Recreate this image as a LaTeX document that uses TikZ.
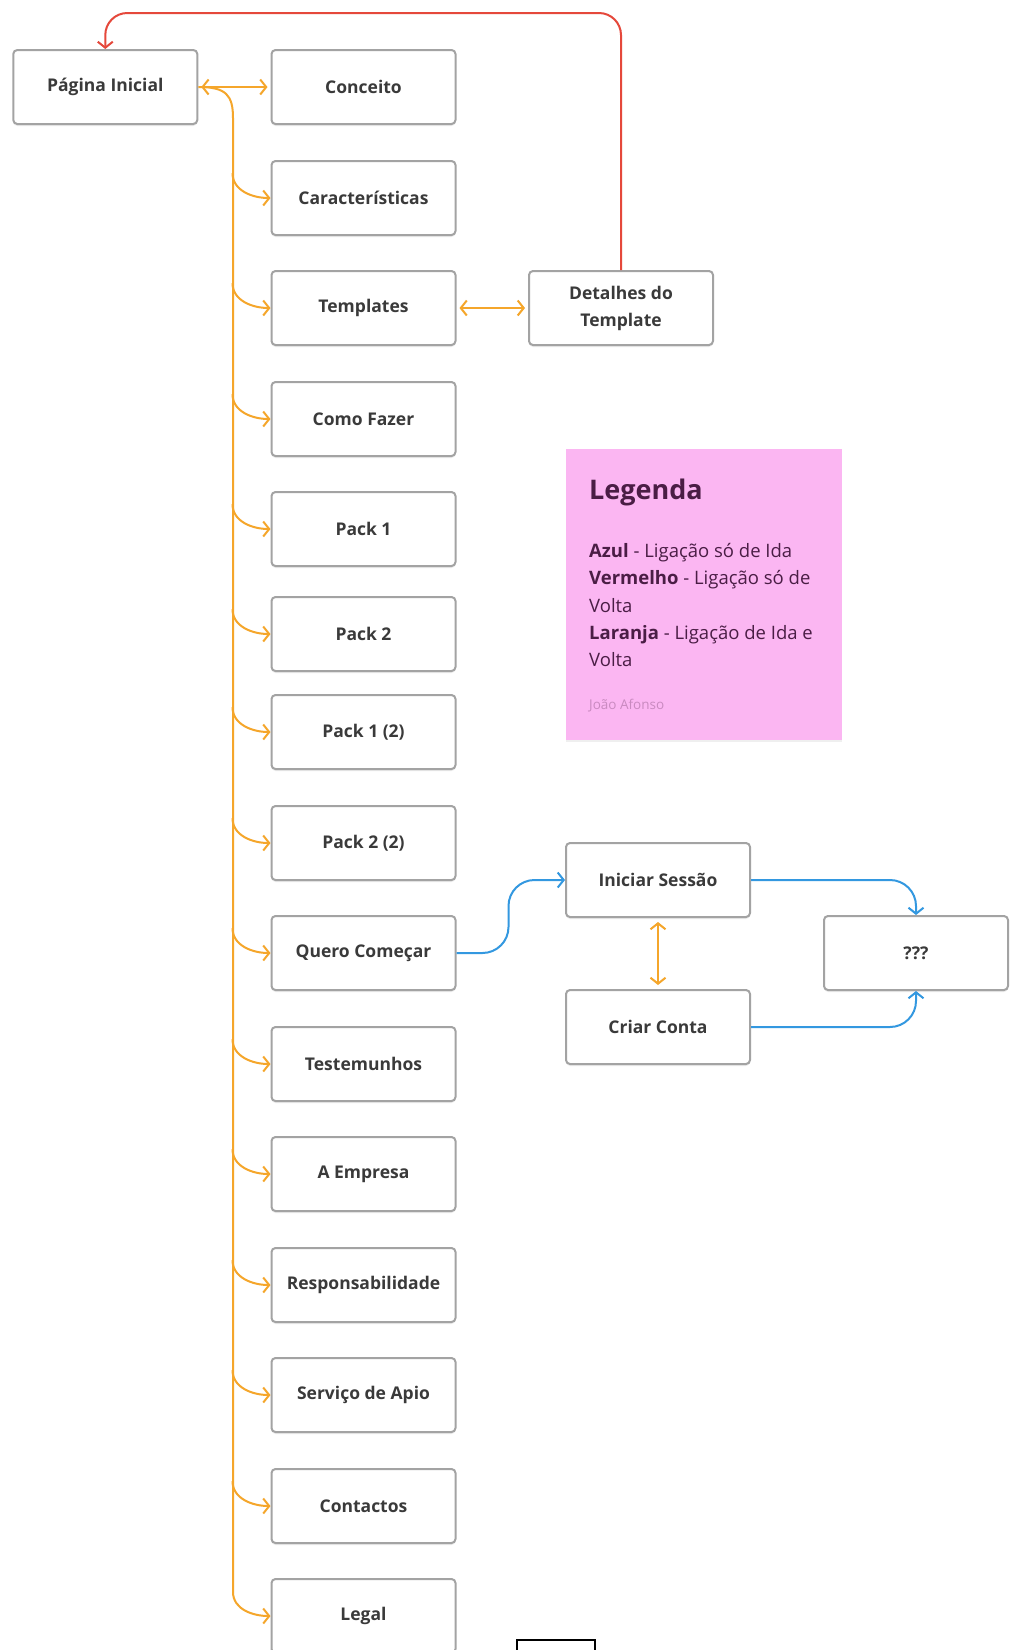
\documentclass[tikz,border=0pt]{standalone}
\usepackage{fontspec}
\setmainfont{Open Sans}
\usetikzlibrary{arrows.meta,calc,shadows}
\definecolor{oline}{HTML}{F5A62B}
\definecolor{rline}{HTML}{E5483B}
\definecolor{bline}{HTML}{3398E0}
\definecolor{bord}{HTML}{A3A3A3}
\definecolor{txt}{HTML}{3A3A3A}
\definecolor{sticky}{HTML}{FBB6F2}
\definecolor{stxt}{HTML}{4A1D45}
\definecolor{sauth}{HTML}{C98AC0}
\begin{document}
\begin{tikzpicture}[x=1pt,y=-1pt,
  chev/.tip={Straight Barb[length=6pt,width=15pt]},
  pbox/.style={draw=bord, line width=2pt, fill=white, rounded corners=4pt,
    minimum width=184pt, minimum height=74pt, text=txt, align=center,
    font=\bfseries\fontsize{17.5}{27}\selectfont,
    drop shadow={shadow xshift=0pt,shadow yshift=-2pt,opacity=0.15}},
  olink/.style={draw=oline, line width=2pt, -{chev}},
  obi/.style={draw=oline, line width=2pt, {chev}-{chev}},
  rlink/.style={draw=rline, line width=2pt, -{chev}, rounded corners=22pt},
  blink/.style={draw=bline, line width=2pt, -{chev}, rounded corners=26pt}]
\clip (0,0) rectangle (1010,1650);
\fill[white] (0,0) rectangle (1010,1650);

% left page
\node[pbox] (pg) at (105.3,87) {Página Inicial};

% column
\node[pbox] (b1) at (363.5,87) {Conceito};
\node[pbox] (b2) at (363.5,198) {Características};
\node[pbox] (b3) at (363.5,308) {Templates};
\node[pbox] (b4) at (363.5,419) {Como Fazer};
\node[pbox] (b5) at (363.5,529) {Pack 1};
\node[pbox] (b6) at (363.5,634) {Pack 2};
\node[pbox] (b7) at (363.5,732) {Pack 1 (2)};
\node[pbox] (b8) at (363.5,843) {Pack 2 (2)};
\node[pbox] (b9) at (363.5,953) {Quero Começar};
\node[pbox] (b10) at (363.5,1064) {Testemunhos};
\node[pbox] (b11) at (363.5,1174) {A Empresa};
\node[pbox] (b12) at (363.5,1285) {Responsabilidade};
\node[pbox] (b13) at (363.5,1395) {Serviço de Apio};
\node[pbox] (b14) at (363.5,1506) {Contactos};
\node[pbox] (b15) at (363.5,1616) {Legal};

% right side
\node[pbox] (det) at (621,308) {Detalhes do\\Template};
\node[pbox] (ini) at (658,880) {Iniciar Sessão};
\node[pbox] (cri) at (658,1027) {Criar Conta};
\node[pbox] (qqq) at (916,953) {???};

% small empty box at bottom
\node[draw=black, line width=2pt, minimum width=78pt, minimum height=30pt, anchor=north west] (emp) at (516,1639) {};

% legend sticky note
\node[fill=sticky, minimum width=276pt, minimum height=291pt, anchor=north west,
  drop shadow={shadow xshift=0pt,shadow yshift=-2pt,opacity=0.12}] (leg) at (566,449) {};
\node[anchor=west, inner sep=0pt, text=stxt, font=\bfseries\fontsize{27}{30}\selectfont] (legt) at (589,492) {Legenda};
\node[anchor=north west, text=stxt, align=left, inner sep=0pt,
  font=\fontsize{18.5}{27.4}\selectfont] (legb) at (589,543)
  {\textbf{Azul} - Ligação só de Ida\\
   \textbf{Vermelho} - Ligação só de\\
   Volta\\
   \textbf{Laranja} - Ligação de Ida e\\
   Volta};
\node[anchor=west, inner sep=0pt, text=sauth, font=\fontsize{13.5}{15}\selectfont] (lega) at (589,706) {João Afonso};

% orange links
\draw[obi, shorten <=3pt, shorten >=3pt] (pg.east) -- (b1.west);
\draw[olink] (pg.east) .. controls (226,87) and (233,95) .. (233,118) -- (233,1592) to[out=-90,in=180] (b15.west);
\foreach \b in {b2,b3,b4,b5,b6,b7,b8,b9,b10,b11,b12,b13,b14}{
  \draw[olink] ($(\b.west)+(-38,-25)$) to[out=-90,in=180] (\b.west);
}
\draw[obi, shorten <=3pt, shorten >=3pt] (b3.east) -- (det.west);
\draw[obi, shorten <=4pt, shorten >=4pt] (ini.south) -- (cri.north);

% red link
\coordinate (rtop) at (105.3,13);
\draw[rlink] (det.north) |- (rtop) -- (pg.north);

% blue links
\draw[blink] (b9.east) -- ++(52,0) |- (ini.west);
\draw[blink] (ini.east) -| (qqq.north);
\draw[blink] (cri.east) -| (qqq.south);
\end{tikzpicture}
\end{document}
